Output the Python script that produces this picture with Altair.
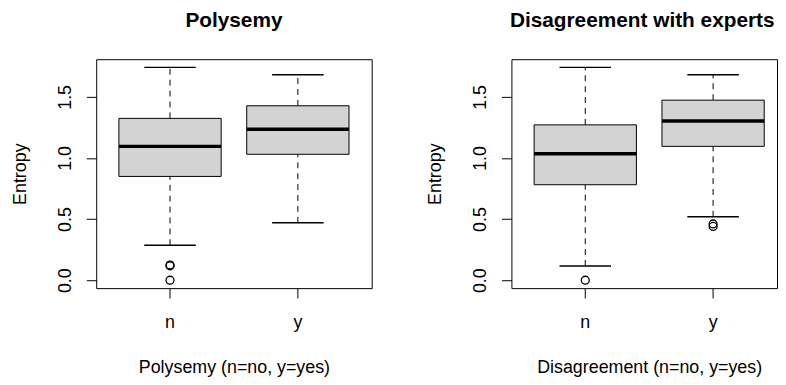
import altair as alt
import pandas as pd

FONT = "Liberation Sans"

groups = ["n", "y"]

# Panel 1: Polysemy
poly_lower = [0.286, 0.470]
poly_q1 = [0.849, 1.030]
poly_median = [1.095, 1.235]
poly_q3 = [1.324, 1.427]
poly_upper = [1.741, 1.681]
poly_out_group = ["n", "n", "n"]
poly_out_value = [0.0, 0.118, 0.124]

# Panel 2: Disagreement with experts
dis_lower = [0.116, 0.519]
dis_q1 = [0.781, 1.095]
dis_median = [1.035, 1.303]
dis_q3 = [1.271, 1.473]
dis_upper = [1.741, 1.681]
dis_out_group = ["n", "y", "y"]
dis_out_value = [0.0, 0.440, 0.460]

y_ticks = [0.0, 0.5, 1.0, 1.5]
Y_DOMAIN = [-0.065, 1.808]
H = 231


def make_panel(title, xtitle, lower, q1, med, q3, upper, og, ov,
               width, padding_outer, align, title_dx):
    stats = pd.DataFrame({"group": groups, "lower": lower, "q1": q1,
                          "median": med, "q3": q3, "upper": upper})
    outl = pd.DataFrame({"group": og, "value": ov})

    xs = alt.Scale(domain=groups, paddingInner=0.2,
                   paddingOuter=padding_outer, align=align)
    xax = alt.Axis(title=xtitle, labelAngle=0, labelFontSize=18,
                   labelFont=FONT, labelColor="black", labelPadding=30,
                   labelBaseline="alphabetic", tickSize=10, tickColor="black",
                   domain=False, grid=False, titleFont=FONT, titleFontSize=18,
                   titleFontWeight="normal", titleColor="black",
                   titleBaseline="alphabetic", titleX=139, titleY=85,
                   titleAlign="center")
    ys = alt.Scale(domain=Y_DOMAIN, nice=False, zero=False)
    yax = alt.Axis(title="Entropy", values=y_ticks, format=".1f",
                   labelAngle=270, labelAlign="center",
                   labelBaseline="alphabetic", labelPadding=16,
                   labelFontSize=18, labelFont=FONT, labelColor="black",
                   tickSize=10, tickColor="black", domain=False, grid=False,
                   titleFont=FONT, titleFontSize=18, titleFontWeight="normal",
                   titleColor="black", titleAngle=270, titleAlign="center",
                   titleBaseline="alphabetic", titleX=-71.5, titleY=H / 2)

    def X():
        return alt.X("group:N", scale=xs, axis=xax, sort=groups)

    def Y(f):
        return alt.Y(f"{f}:Q", scale=ys, axis=yax)

    base = alt.Chart(stats)
    whisk_hi = base.mark_rule(color="black", strokeWidth=1,
                              strokeDash=[6, 5]).encode(
        x=X(), y=Y("q3"), y2="upper:Q")
    whisk_lo = base.mark_rule(color="black", strokeWidth=1,
                              strokeDash=[6, 5]).encode(
        x=X(), y=Y("lower"), y2="q1:Q")
    box = base.mark_bar(fill="#d3d3d3", stroke="black",
                        strokeWidth=1).encode(x=X(), y=Y("q1"), y2="q3:Q")
    median = base.mark_tick(color="black", thickness=3.5, size=103,
                            opacity=1).encode(x=X(), y=Y("median"))
    cap_hi = base.mark_tick(color="black", thickness=1.3, size=52,
                            opacity=1).encode(x=X(), y=Y("upper"))
    cap_lo = base.mark_tick(color="black", thickness=1.3, size=52,
                            opacity=1).encode(x=X(), y=Y("lower"))
    pts = alt.Chart(outl).mark_point(shape="circle", filled=False,
                                     color="black", size=64,
                                     strokeWidth=1.3, opacity=1).encode(
        x=X(), y=Y("value"))

    return alt.layer(whisk_hi, whisk_lo, box, median, cap_hi, cap_lo,
                     pts).properties(
        width=width, height=H,
        title=alt.TitleParams(text=title, fontSize=21, fontWeight="bold",
                              font=FONT, color="black", anchor="middle",
                              frame="group", baseline="alphabetic",
                              offset=12, dx=title_dx))


left = make_panel("Polysemy", "Polysemy (n=no, y=yes)", poly_lower, poly_q1,
                  poly_median, poly_q3, poly_upper, poly_out_group,
                  poly_out_value, 278, 0.1775, 0.5, 0)
# right panel is cut by the window edge in the reference: keep the same
# band step but a narrower view
right = make_panel("Disagreement with experts", "Disagreement (n=no, y=yes)",
                   dis_lower, dis_q1, dis_median, dis_q3, dis_upper,
                   dis_out_group, dis_out_value, 268, 0.1388, 0.64, -2)

chart = alt.hconcat(left, right, spacing=54).properties(
    padding={"left": 3, "top": -1, "right": 0, "bottom": 0},
    background="white",
).configure_view(stroke="black", strokeWidth=1)

chart.save("out.html", embed_options={"renderer": "svg", "actions": False})
